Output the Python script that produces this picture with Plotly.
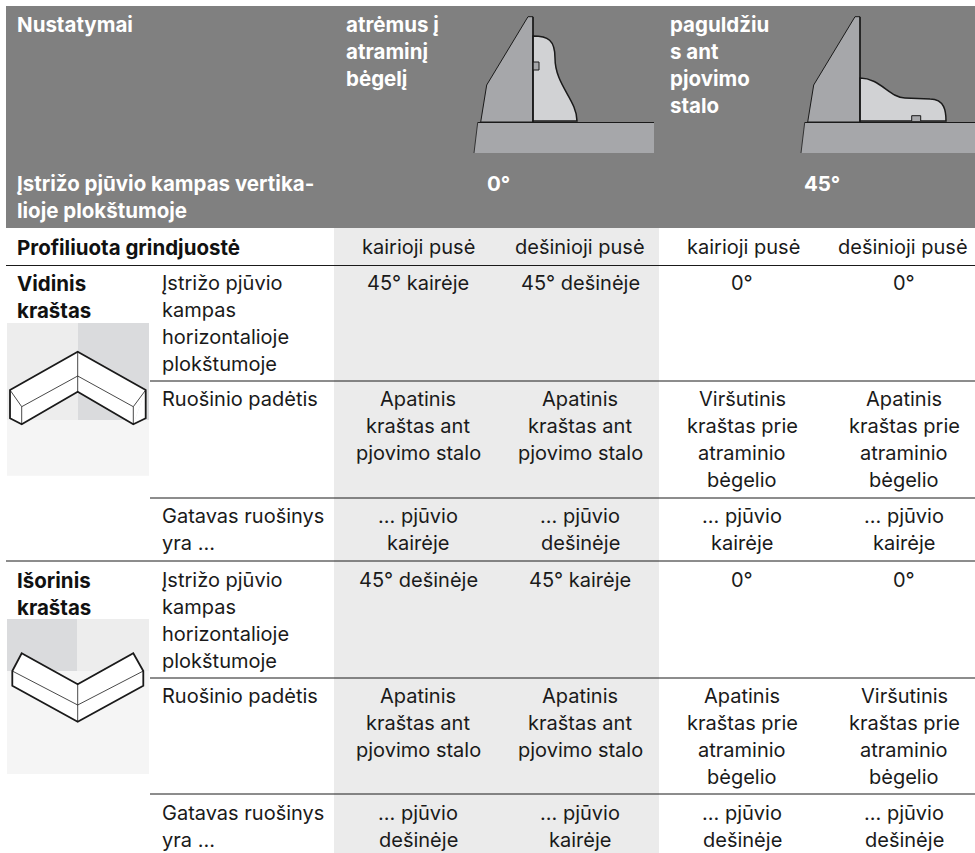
import plotly.graph_objects as go

# ---- table content ----
header_left = ["Nustatymai"]
angle_title = ["Įstrižo pjūvio kampas vertika-", "lioje plokštumoje"]
col_titles = [["atrėmus į", "atraminį", "bėgelį"], ["paguldžiu", "s ant", "pjovimo", "stalo"]]
angle_values = ["0°", "45°"]
section_title = "Profiliuota grindjuostė"
sides = ["kairioji pusė", "dešinioji pusė", "kairioji pusė", "dešinioji pusė"]
groups = [["Vidinis", "kraštas"], ["Išorinis", "kraštas"]]
row_labels = [["Įstrižo pjūvio", "kampas", "horizontalioje", "plokštumoje"],
              ["Ruošinio padėtis"],
              ["Gatavas ruošinys", "yra ..."]]
lower_edge = ["Apatinis", "kraštas ant", "pjovimo stalo"]
fence_top = ["Viršutinis", "kraštas prie", "atraminio", "bėgelio"]
fence_low = ["Apatinis", "kraštas prie", "atraminio", "bėgelio"]
cut_l = ["... pjūvio", "kairėje"]
cut_r = ["... pjūvio", "dešinėje"]
cells = [
    [[["45° kairėje"], ["45° dešinėje"], ["0°"], ["0°"]],
     [lower_edge, lower_edge, fence_top, fence_low],
     [cut_l, cut_r, cut_l, cut_l]],
    [[["45° dešinėje"], ["45° kairėje"], ["0°"], ["0°"]],
     [lower_edge, lower_edge, fence_low, fence_top],
     [cut_r, cut_l, cut_r, cut_r]],
]

# ---- layout reference points (page pixels) ----
col_centres = [418, 580, 742, 904]
side_centres = [418, 580, 743, 903]
row_tops = [[283, 399, 516], [580, 696, 813]]
LH = 27
FAM = "Inter, Liberation Sans, sans-serif"
BODY = dict(family=FAM, size=20, color="#1a1a1a")
HEAD = dict(family=FAM, size=20.5, color="#ffffff", weight=700)
BOLD = dict(family=FAM, size=20.5, color="#111111", weight=700)

shapes, ann = [], []

def rect(x0, y0, x1, y1, color):
    shapes.append(dict(type="rect", x0=x0, y0=y0, x1=x1, y1=y1, fillcolor=color,
                       line_width=0, layer="below"))

def path(d, fill="rgba(0,0,0,0)", lw=1.0, color="#1a1a1a"):
    shapes.append(dict(type="path", path=d, fillcolor=fill, layer="below",
                       line=dict(color=color, width=lw)))

def hline(x0, x1, y, lw=1.0):
    shapes.append(dict(type="line", x0=x0, x1=x1, y0=y, y1=y, layer="above",
                       line=dict(color="#1a1a1a", width=lw)))

def text(x, y, s, font, anchor="left"):
    ann.append(dict(x=x, y=y, text=s, font=font, xref="x", yref="y", showarrow=False,
                    xanchor=anchor, yanchor="middle", align=anchor))

def lines(x, y, items, font, anchor="left"):
    for i, s in enumerate(items):
        text(x, y + i * LH, s, font, anchor)

# backgrounds
rect(6, 6, 975, 228, "#808080")
rect(334, 228, 659, 853, "#ebebeb")

# header drawings
def saw(dx, right):
    path(f"M {480.7+dx} 122 L {486.7+dx} 85 L {528+dx} 16.7 L {533+dx} 16.7 L {533+dx} 122 Z", "#a6a7aa", 1.0)
    path(f"M {477.7+dx} 122.5 L {right} 122.5 L {right} 153 L {474+dx} 153 Z", "#a6a7aa", 0)
    path(f"M {477.7+dx} 122.5 L {474+dx} 153", lw=0.8)

saw(0, 654)
path("M 533 36 C 548 36 555 40 555 58 C 555 85 577 100 577 121 L 533 121 Z", "#d1d2d4", 1.5)
path("M 533 62 L 539 62 L 539 70 L 533 70", "#a6a7aa", 1.0)
path("M 533 17 L 533 122", lw=1.5)
hline(477.7, 654, 122.5, 1.0)
saw(327, 975)
path("M 860 78 C 880 78 890 98 905 98 L 930 99 C 945 99 946 112 946 121 L 860 121 Z", "#d1d2d4", 1.5)
path("M 911.7 121 L 911.7 115.7 L 920.7 115.7 L 920.7 121", "#a6a7aa", 1.0)
path("M 860 17 L 860 122", lw=1.5)
hline(804.7, 975, 122.5, 1.0)

# corner drawings
rect(7, 323, 149, 475.7, "#f5f5f5")
rect(7, 323, 78, 420, "#ededed")
rect(78, 323, 149, 420, "#dadbdd")
path("M 77.7 351.7 L 145.7 390 L 133.3 424.3 L 77.7 391.7 Z", "#ffffff", 0)
path("M 10 390 L 77.7 351.7 L 77.7 391.7 L 21.7 424.3 L 10 418.3 Z", "#ffffff", 0)
path("M 145.7 390 L 133.3 424.3 L 145.7 418.3 Z", "#ffffff", 0)
path("M 10 390 L 77.7 351.7 L 145.7 390 L 145.7 418.3 L 133.3 424.3 L 77.7 391.7 L 21.7 424.3 L 10 418.3 Z", lw=1.8)
path("M 77.7 351.7 L 77.7 391.7", lw=0.8)
path("M 21.7 406.7 L 77.7 376 L 133.3 406.7 M 10 390 L 21.7 406.7 L 21.7 424.3 M 145.7 390 L 133.3 406.7 L 133.3 424.3", lw=0.8)

rect(7, 619, 149, 774, "#f5f5f5")
rect(7, 619, 77, 671, "#dadbdd")
rect(77, 619, 149, 671, "#ededed")
path("M 21.7 653.3 L 77.7 684.3 L 133.3 653.3 L 143.3 671 L 143.3 685.7 L 77.7 721.7 L 12.3 685.7 L 12.3 671 Z", "#ffffff", 1.8)
path("M 77.7 684.3 L 77.7 721.7", lw=0.8)
path("M 12.3 671 L 77.7 705 L 143.3 671", lw=0.8)

# rules
for y, x0 in [(265.5, 6), (381, 150), (498, 150), (561, 6), (678, 150), (794, 150)]:
    hline(x0, 975, y)

# texts
text(15, 24, header_left[0], HEAD)
lines(15, 183, angle_title, HEAD)
lines(344, 24, col_titles[0], HEAD)
lines(668, 24, col_titles[1], HEAD)
text(498, 183, angle_values[0], HEAD, "center")
text(822, 183, angle_values[1], HEAD, "center")
text(15, 247, section_title, BOLD)
for x, s in zip(side_centres, sides):
    text(x, 247, s, BODY, "center")

for g in range(2):
    lines(15, row_tops[g][0], groups[g], BOLD)
    for r in range(3):
        lines(160, row_tops[g][r], row_labels[r], BODY)
        for c in range(4):
            lines(col_centres[c], row_tops[g][r], cells[g][r][c], BODY, "center")

fig = go.Figure()
fig.update_layout(
    width=975, height=853, margin=dict(l=0, r=0, t=0, b=0),
    paper_bgcolor="#ffffff", plot_bgcolor="#ffffff", showlegend=False,
    xaxis=dict(range=[0, 975], visible=False, fixedrange=True),
    yaxis=dict(range=[853, 0], visible=False, fixedrange=True),
    shapes=shapes, annotations=ann,
)
fig.write_html("out.html", config=dict(displayModeBar=False),
               post_script="document.body.style.margin='0';document.body.style.overflow='hidden';")
